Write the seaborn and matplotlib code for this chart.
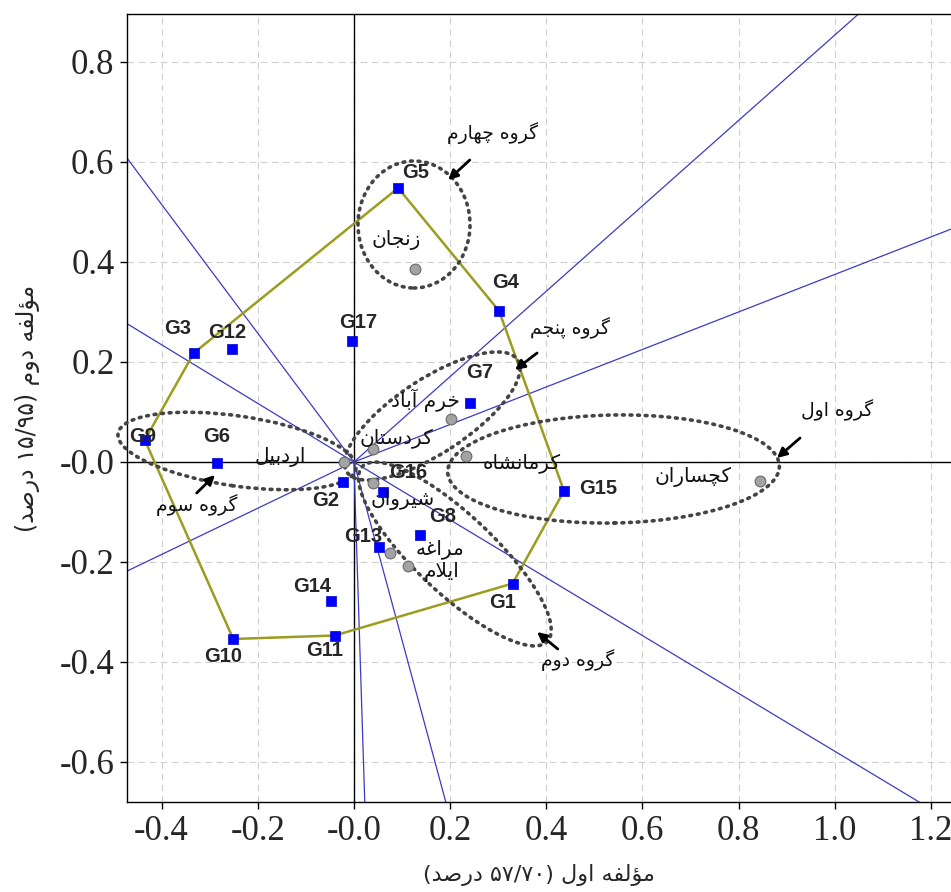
import re
import numpy as np
import pandas as pd
import seaborn as sns
import matplotlib.pyplot as plt
from matplotlib.patches import Ellipse

# genotype scores (blue squares)
genotypes = ["G1", "G2", "G3", "G4", "G5", "G6", "G7", "G8", "G9", "G10",
             "G11", "G12", "G13", "G14", "G15", "G16", "G17"]
gen_pc1 = [0.330, -0.023, -0.333, 0.302, 0.092, -0.285, 0.241, 0.137, -0.435, -0.251,
           -0.040, -0.254, 0.052, -0.048, 0.437, 0.060, -0.004]
gen_pc2 = [-0.243, -0.040, 0.218, 0.302, 0.548, -0.002, 0.118, -0.146, 0.044, -0.354,
           -0.347, 0.226, -0.170, -0.277, -0.058, -0.060, 0.242]

# environment scores (grey circles)
environments = ["زنجان", "خرم آباد", "کردستان", "اردبیل", "کرمانشاه",
                "شیروان", "مراغه", "ایلام", "کچساران"]
env_pc1 = [0.127, 0.202, 0.040, -0.021, 0.234, 0.040, 0.075, 0.112, 0.845]
env_pc2 = [0.387, 0.087, 0.027, 0.000, 0.012, -0.041, -0.181, -0.207, -0.037]

# polygon vertices (which-won-where)
hull = ["G5", "G4", "G15", "G1", "G11", "G10", "G9", "G3"]

# mega-environment groups (dotted ellipses)
group_names = ["گروه اول", "گروه دوم", "گروه سوم", "گروه چهارم", "گروه پنجم"]
group_cx = [0.540, 0.210, -0.243, 0.125, 0.163]
group_cy = [-0.014, -0.184, 0.022, 0.475, 0.092]
group_w = [0.690, 0.520, 0.500, 0.233, 0.420]
group_h = [0.216, 0.160, 0.140, 0.254, 0.150]
group_angle = [1, -42, -8, 0, 32]

xticks = [-0.4, -0.2, 0.0, 0.2, 0.4, 0.6, 0.8, 1.0, 1.2]
xtick_labels = ["-0.4", "-0.2", "-0.0", "0.2", "0.4", "0.6", "0.8", "1.0", "1.2"]
yticks = [0.8, 0.6, 0.4, 0.2, 0.0, -0.2, -0.4, -0.6]
ytick_labels = ["0.8", "0.6", "0.4", "0.2", "-0.0", "-0.2", "-0.4", "-0.6"]

x_title = "مؤلفه اول (۵۷/۷۰ درصد)"
y_title = "مؤلفه دوم (۱۵/۹۵ درصد)"

# --- minimal Persian shaping (matplotlib has no complex text layout) ---
FORMS = {
    "\u0627": ("\uFE8D", "\uFE8E"), "\u0622": ("\uFE81", "\uFE82"),
    "\u0624": ("\uFE85", "\uFE86"), "\u062F": ("\uFEA9", "\uFEAA"),
    "\u0631": ("\uFEAD", "\uFEAE"), "\u0632": ("\uFEAF", "\uFEB0"),
    "\u0698": ("\uFB8A", "\uFB8B"), "\u0648": ("\uFEED", "\uFEEE"),
    "\u0628": ("\uFE8F", "\uFE90", "\uFE91", "\uFE92"),
    "\u067E": ("\uFB56", "\uFB57", "\uFB58", "\uFB59"),
    "\u062A": ("\uFE95", "\uFE96", "\uFE97", "\uFE98"),
    "\u062C": ("\uFE9D", "\uFE9E", "\uFE9F", "\uFEA0"),
    "\u0686": ("\uFB7A", "\uFB7B", "\uFB7C", "\uFB7D"),
    "\u062D": ("\uFEA1", "\uFEA2", "\uFEA3", "\uFEA4"),
    "\u062E": ("\uFEA5", "\uFEA6", "\uFEA7", "\uFEA8"),
    "\u0633": ("\uFEB1", "\uFEB2", "\uFEB3", "\uFEB4"),
    "\u0634": ("\uFEB5", "\uFEB6", "\uFEB7", "\uFEB8"),
    "\u0635": ("\uFEB9", "\uFEBA", "\uFEBB", "\uFEBC"),
    "\u063A": ("\uFECD", "\uFECE", "\uFECF", "\uFED0"),
    "\u0641": ("\uFED1", "\uFED2", "\uFED3", "\uFED4"),
    "\u06A9": ("\uFB8E", "\uFB8F", "\uFB90", "\uFB91"),
    "\u06AF": ("\uFB92", "\uFB93", "\uFB94", "\uFB95"),
    "\u0644": ("\uFEDD", "\uFEDE", "\uFEDF", "\uFEE0"),
    "\u0645": ("\uFEE1", "\uFEE2", "\uFEE3", "\uFEE4"),
    "\u0646": ("\uFEE5", "\uFEE6", "\uFEE7", "\uFEE8"),
    "\u0647": ("\uFEE9", "\uFEEA", "\uFEEB", "\uFEEC"),
    "\u06CC": ("\uFBFC", "\uFBFD", "\uFBFE", "\uFBFF"),
}
DIGITS = "\u06F0\u06F1\u06F2\u06F3\u06F4\u06F5\u06F6\u06F7\u06F8\u06F9/"


def shape(word):
    out, i, n = [], 0, len(word)
    while i < n:
        c = word[i]
        prev = i > 0 and len(FORMS.get(word[i - 1], ())) == 4
        if c == "\u0644" and i + 1 < n and word[i + 1] == "\u0627":
            out.append("\uFEFC" if prev else "\uFEFB")
            i += 2
            continue
        if c not in FORMS:
            out.append(c)
            i += 1
            continue
        f = FORMS[c]
        nxt = len(f) == 4 and i + 1 < n and word[i + 1] in FORMS
        if prev and nxt:
            out.append(f[3])
        elif prev:
            out.append(f[1])
        elif nxt:
            out.append(f[2])
        else:
            out.append(f[0])
        i += 1
    return "".join(out)


def fa(text):
    # shape each word, then lay the runs out right-to-left (numbers stay LTR)
    tokens = re.findall(r"[\u06F0-\u06F9/]+|[()]|\s+|[^\s()\u06F0-\u06F9/]+", text)
    out = []
    for t in tokens:
        if t[0] in "()" or t[0].isspace() or t[0] in DIGITS:
            out.append(t)
        else:
            out.append(shape(t)[::-1])
    out = [{"(": ")", ")": "("}.get(t, t) for t in out[::-1]]
    return "".join(out)


gen = pd.DataFrame({"name": genotypes, "pc1": gen_pc1, "pc2": gen_pc2})
env = pd.DataFrame({"name": environments, "pc1": env_pc1, "pc2": env_pc2})
poly = gen.set_index("name").loc[hull + hull[:1]].reset_index()

sns.set_style("white")
plt.rcParams["font.family"] = ["DejaVu Sans"]

fig = plt.figure(figsize=(9.51, 8.92), dpi=100)
ax = fig.add_axes([127 / 951, 90 / 892, 824 / 951, 788 / 892])
ax.set_xlim(-0.472, 1.242)
ax.set_ylim(-0.68, 0.896)

ax.grid(True, ls=(0, (6, 4)), color="#cfcfcf", lw=0.8)
ax.set_axisbelow(True)
ax.axhline(0, color="black", lw=1, zorder=1)
ax.axvline(0, color="black", lw=1, zorder=1)

# rays from origin perpendicular to each polygon side
pts = poly[["pc1", "pc2"]].to_numpy()
for p, q in zip(pts[:-1], pts[1:]):
    d = q - p
    t = -np.dot(p, d) / np.dot(d, d)
    foot = p + t * d
    end = foot / np.linalg.norm(foot) * 3
    ax.plot([0, end[0]], [0, end[1]], color="#3b3bc4", lw=0.9, zorder=2)

sns.lineplot(data=poly, x="pc1", y="pc2", sort=False, estimator=None,
             color="#9c9c1e", lw=1.8, ax=ax, zorder=3)

for cx, cy, w, h, a in zip(group_cx, group_cy, group_w, group_h, group_angle):
    ax.add_patch(Ellipse((cx, cy), w, h, angle=a, fill=False, ec="#444444",
                         lw=2.6, ls=(0, (0.5, 1.6)), capstyle="round",
                         clip_on=False, zorder=4))

sns.scatterplot(data=env, x="pc1", y="pc2", marker="o", s=60, color="#a3a3a3",
                edgecolor="#6a6a6a", linewidth=0.8, ax=ax, zorder=5)
sns.scatterplot(data=gen, x="pc1", y="pc2", marker="s", s=50, color="#0000ff",
                edgecolor="#0000cc", linewidth=0.5, ax=ax, zorder=6)

# label offsets in pixels
gen_off = {"G1": (-10, -19), "G2": (-17, -18), "G3": (-16, 24), "G4": (6, 28),
           "G5": (17, 15), "G6": (0, 26), "G7": (10, 31), "G8": (23, 18),
           "G9": (-2, 3), "G10": (-10, -18), "G11": (-10, -15), "G12": (-5, 17),
           "G13": (-16, 10), "G14": (-19, 14), "G15": (34, 3), "G16": (25, 19),
           "G17": (6, 18)}
for _, r in gen.iterrows():
    ax.annotate(r["name"], (r["pc1"], r["pc2"]), xytext=gen_off[r["name"]],
                textcoords="offset pixels", ha="center", va="center",
                fontsize=14.5, fontweight="bold", family="Liberation Sans", zorder=7)

env_off = [(-19, 28), (-26, 18), (23, 10), (-64, 5), (55, -7),
           (29, -18), (50, 3), (34, -6), (-67, 4)]
for (_, r), off in zip(env.iterrows(), env_off):
    ax.annotate(fa(r["name"]), (r["pc1"], r["pc2"]), xytext=off,
                textcoords="offset pixels", ha="center", va="center",
                fontsize=14.5, color="#111111", zorder=7)

# group labels with arrows: (text, arrow tail, arrow head)
group_lab = {
    "گروه اول": ((1.005, 0.104), (0.928, 0.048), (0.880, 0.008)),
    "گروه دوم": ((0.466, -0.396), (0.424, -0.374), (0.381, -0.340)),
    "گروه سوم": ((-0.327, -0.086), (-0.327, -0.062), (-0.289, -0.026)),
    "گروه چهارم": ((0.289, 0.658), (0.241, 0.604), (0.196, 0.564)),
    "گروه پنجم": ((0.449, 0.268), (0.381, 0.218), (0.335, 0.184)),
}
for name in group_names:
    txt, tail, head = group_lab[name]
    ax.text(txt[0], txt[1], fa(name), ha="center", va="center",
            fontsize=13.5, color="#111111", zorder=7)
    ax.annotate("", xy=head, xytext=tail,
                arrowprops=dict(arrowstyle="-|>", color="black", lw=2,
                                mutation_scale=14, shrinkA=0, shrinkB=0), zorder=7)

ax.set_xticks(xticks)
ax.set_xticklabels(xtick_labels, fontfamily="Liberation Serif", fontsize=25)
ax.set_yticks(yticks)
ax.set_yticklabels(ytick_labels, fontfamily="Liberation Serif", fontsize=25)
ax.tick_params(direction="out", length=5, width=1, color="black", pad=4,
               left=True, bottom=True)
for s in ["left", "top", "bottom"]:
    ax.spines[s].set_color("black")
    ax.spines[s].set_linewidth(1)
ax.spines["right"].set_visible(False)

ax.set_xlabel(fa(x_title), fontsize=16, labelpad=12)
ax.set_ylabel(fa(y_title), fontsize=17, labelpad=14)

fig.savefig("out.png", dpi=100)
